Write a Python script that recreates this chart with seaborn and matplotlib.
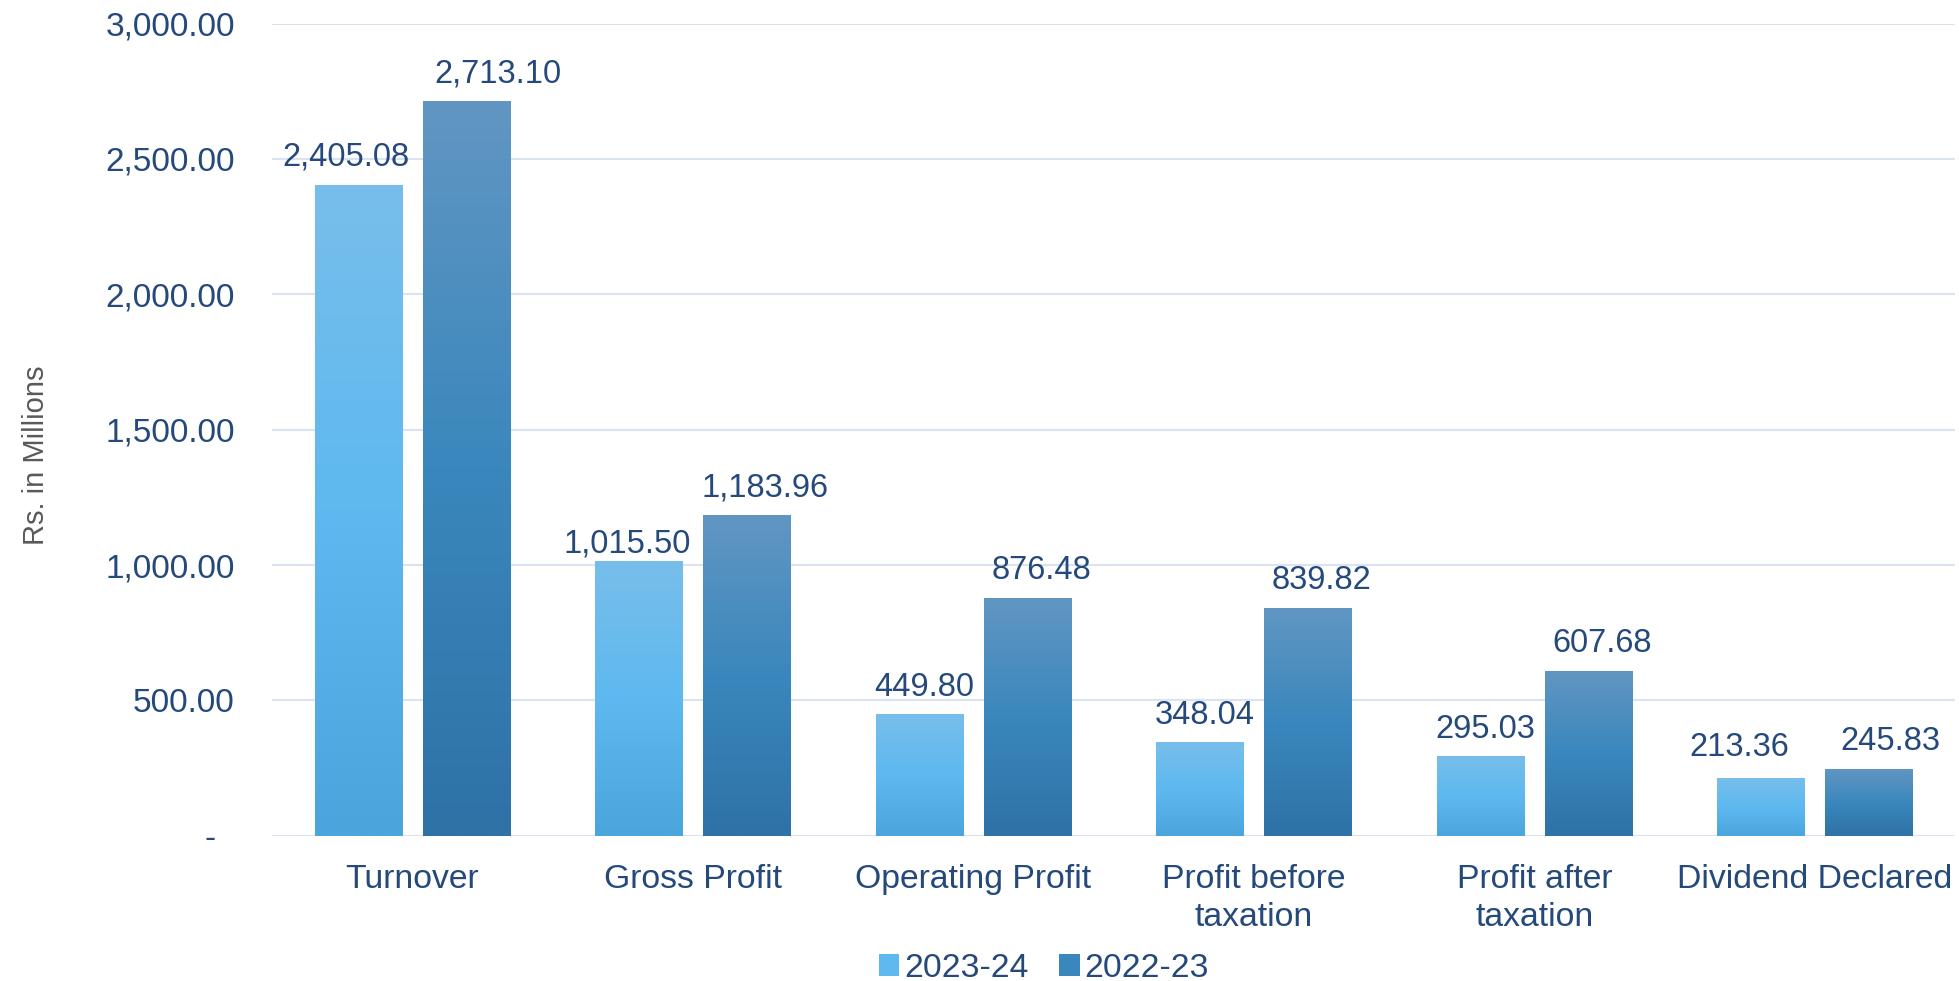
import matplotlib.pyplot as plt
import matplotlib.ticker as mticker
from matplotlib.colors import LinearSegmentedColormap
from matplotlib.patches import Patch
import numpy as np
import pandas as pd
import seaborn as sns

categories = ["Turnover", "Gross Profit", "Operating Profit",
              "Profit before\ntaxation", "Profit after\ntaxation", "Dividend Declared"]
years = ["2023-24", "2022-23"]
values_2023_24 = [2405.08, 1015.50, 449.80, 348.04, 295.03, 213.36]
values_2022_23 = [2713.10, 1183.96, 876.48, 839.82, 607.68, 245.83]

df = pd.DataFrame({
    "Category": categories * 2,
    "Year": [years[0]] * len(categories) + [years[1]] * len(categories),
    "Value": values_2023_24 + values_2022_23,
})

# gradient stops (top, middle, bottom) for each series
grad = {
    "2023-24": ["#78BEEB", "#5DB9EF", "#49A5DC"],
    "2022-23": ["#6196C2", "#3A87BD", "#2E72A6"],
}
# label nudges in pixels (the source chart has hand-placed labels)
label_dx = {"2023-24": [-13, -12, 5, 5, 5, -22], "2022-23": [31, 18, 14, 14, 14, 22]}
label_dy = {"2023-24": [19, 8, 18, 18, 18, 22], "2022-23": [19, 19, 19, 19, 19, 19]}
text_col = "#24497A"
px = 72 / 100

sns.set_theme(style="white")
plt.rcParams["font.family"] = ["Liberation Sans", "DejaVu Sans"]

fig = plt.figure(figsize=(19.59, 9.81), dpi=100)
ax = fig.add_axes([0.139, 0.148, 0.859, 0.828])

sns.barplot(data=df, x="Category", y="Value", hue="Year", hue_order=years,
            palette=[grad[y][1] for y in years], width=0.77, gap=0.19,
            legend=False, ax=ax, linewidth=0)

# per-bar vertical gradient, clipped to each bar
for year, cont in zip(years, ax.containers):
    cmap = LinearSegmentedColormap.from_list(year, grad[year][::-1])
    g = np.linspace(0, 1, 256).reshape(-1, 1)
    for i, bar in enumerate(cont):
        x0, y0 = bar.get_x(), bar.get_y()
        w, h = bar.get_width(), bar.get_height()
        im = ax.imshow(g, cmap=cmap, origin="lower", aspect="auto",
                       extent=[x0, x0 + w, y0, y0 + h], zorder=bar.get_zorder() + 0.1)
        im.set_clip_path(bar)
        ax.annotate(f"{cont.datavalues[i]:,.2f}", (x0 + w / 2, y0 + h),
                    xytext=(label_dx[year][i] * px, label_dy[year][i] * px),
                    textcoords="offset points", ha="center", va="baseline",
                    fontsize=23.5, color=text_col)

ax.set_ylim(0, 3000)
ax.set_xlim(-0.5, len(categories) - 0.5)

ax.set_yticks(np.arange(0, 3001, 500))
ax.yaxis.set_major_formatter(mticker.FuncFormatter(
    lambda v, p: "-  " if v == 0 else f"{v:,.2f}"))
ax.grid(axis="y", color="#D9E3F2", linewidth=1.5)
ax.set_axisbelow(True)
for s in ax.spines.values():
    s.set_visible(False)
ax.tick_params(axis="y", length=0, pad=27, labelsize=24, labelcolor=text_col)
ax.tick_params(axis="x", length=0, pad=20, labelsize=24.3, labelcolor=text_col)
for t in ax.get_xticklabels():
    t.set_linespacing(1.3)

ax.set_xlabel("")
ax.set_ylabel("Rs. in Millions", fontsize=21, color="#595959")
ax.yaxis.set_label_coords(-0.132, 0.468)

handles = [Patch(facecolor=grad[y][1], edgecolor="none", label=y) for y in years]
fig.legend(handles=handles, loc="center", bbox_to_anchor=(0.533, 0.013), ncol=2,
           frameon=False, fontsize=24.3, handlelength=0.6, handleheight=0.6,
           handletextpad=0.15, columnspacing=0.9, borderpad=0,
           labelcolor=text_col)

plt.savefig("out.png", dpi=100)
